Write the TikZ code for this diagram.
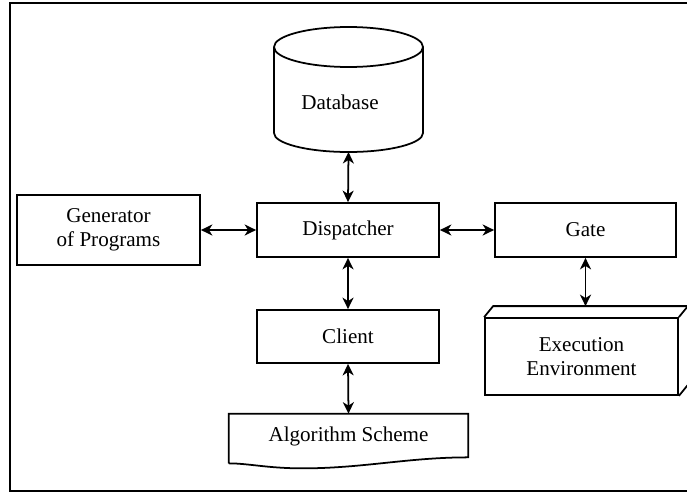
\documentclass[tikz,border=0pt]{standalone}
\usepackage{fontspec}
\setmainfont{Liberation Serif}
\usepackage{tikz}
\usetikzlibrary{arrows.meta}
\tikzstyle{block} = [draw, line width=1pt, minimum width=3.64cm, minimum height=1.08cm, align=center]
\tikzstyle{link} = [line width=1pt, {Stealth[length=2.3mm,width=2.2mm,inset=0.7mm]}-{Stealth[length=2.3mm,width=2.2mm,inset=0.7mm]}]

\begin{document}
\begin{tikzpicture}[font=\fontsize{12}{13.6}\selectfont]
\useasboundingbox (0,0) rectangle (13.74,9.86);
% Frame
\draw[line width=1.1pt] (13.74,9.8) -- (0.2,9.8) -- (0.2,0.04) -- (13.74,0.04);

% Database
\draw[line width=1pt] (5.48,8.92) -- (5.48,7.2) arc[start angle=180, end angle=360, x radius=1.49cm, y radius=0.38cm] -- (8.46,8.92);
\draw[line width=1pt] (6.97,8.92) ellipse [x radius=1.49cm, y radius=0.4cm];
\node (db) at (6.8,7.82) {Database};
\coordinate (dbbot) at (6.97,6.82);

% Blocks
\node[block] (disp) at (6.96,5.26) {Dispatcher};
\node[block, minimum width=3.66cm, minimum height=1.4cm] (gen) at (2.17,5.26) {Generator\\of Programs};
\node[block, minimum width=3.62cm] (gate) at (11.71,5.26) {Gate};
\node[block, minimum height=1.06cm] (client) at (6.96,3.13) {Client};

% Execution environment (box with depth)
\node[block, minimum width=3.86cm, minimum height=1.54cm] (exec) at (11.63,2.73) {Execution\\Environment};
\draw[line width=1pt] (exec.north west) -- ++(0.18,0.22) -| ([shift={(0.18,0.22)}]exec.south east) -- (exec.south east);
\draw[line width=1pt] (exec.north east) -- ++(0.18,0.22);
\path (gate.south |- exec.north) ++(0,0.22) coordinate (exectop);

% Algorithm scheme (document)
\node[minimum width=4.78cm, minimum height=0.88cm] (alg) at (6.97,1.14) {Algorithm Scheme};
\draw[line width=1pt] ([yshift=-0.1cm]alg.south west) -- (alg.north west) -- (alg.north east) -- ([yshift=0.02cm]alg.south east)
  .. controls +(-1.2,0) and +(1.2,0) .. ([xshift=1.48cm, yshift=-0.2cm]alg.south west)
  .. controls +(-0.7,0) and +(0.4,0) .. ([yshift=-0.1cm]alg.south west);

% Arrows
\draw[link] (dbbot) -- (disp.north);
\draw[link] (gen.east) -- (disp.west);
\draw[link] (disp.east) -- (gate.west);
\draw[link] (disp.south) -- (client.north);
\draw[link] (client.south) -- (alg.north);
\draw[link] (gate.south) -- (exectop);
\end{tikzpicture}
\end{document}
